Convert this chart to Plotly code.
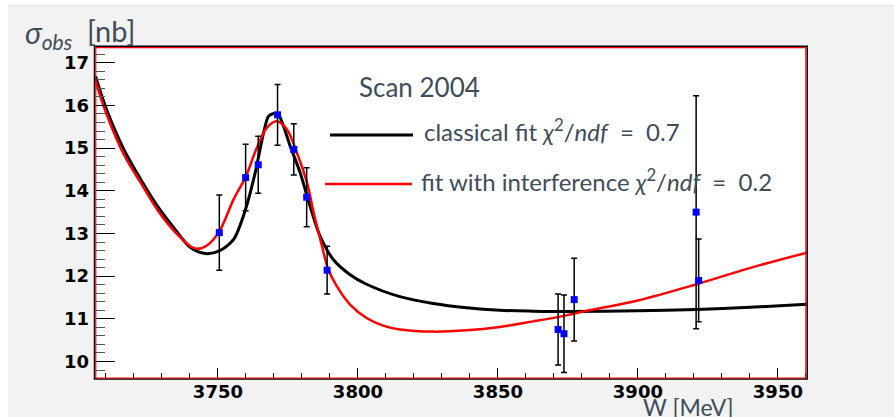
import plotly.graph_objects as go

# ---- measured cross sections (Scan 2004) ----
w_data = [3750.5, 3759.9, 3764.4, 3771.3, 3777.1, 3781.7, 3789.0,
          3871.5, 3873.6, 3877.25, 3920.8, 3921.7]
sigma_data = [13.02, 14.31, 14.61, 15.78, 14.97, 13.85, 12.14,
              10.75, 10.65, 11.45, 13.50, 11.90]
sigma_err = [0.88, 0.78, 0.67, 0.71, 0.60, 0.69, 0.56,
             0.83, 0.91, 0.97, 2.73, 0.97]

# ---- classical fit curve ----
w_classic = [3706.3, 3710.2, 3716.4, 3722.4, 3728.4, 3734.3, 3740.2, 3745.5,
             3750.5, 3755.6, 3759.8, 3763.3, 3766.3, 3768.1, 3769.9, 3771.4,
             3773.4, 3775.8, 3779.4, 3782.9, 3786.4, 3791.2, 3797.1, 3803.1,
             3815.0, 3826.9, 3838.8, 3850.7, 3862.6, 3874.4, 3900.0, 3921.0,
             3940.0, 3960.4]
sigma_classic = [16.68, 15.91, 14.97, 14.27, 13.64, 13.13, 12.67, 12.53,
                 12.59, 12.86, 13.55, 14.42, 15.36, 15.75, 15.81, 15.81,
                 15.52, 15.05, 14.42, 13.64, 12.95, 12.39, 12.04, 11.81,
                 11.52, 11.36, 11.26, 11.20, 11.18, 11.17, 11.19, 11.22,
                 11.27, 11.34]

# ---- fit with interference ----
w_interf = [3706.3, 3710.2, 3716.4, 3722.4, 3728.4, 3734.3, 3740.2, 3742.5,
            3746.1, 3750.5, 3755.6, 3759.8, 3763.9, 3767.5, 3771.0, 3774.6,
            3778.2, 3781.8, 3784.5, 3787.0, 3789.4, 3792.4, 3797.1, 3803.1,
            3809.0, 3815.0, 3826.9, 3838.8, 3850.7, 3862.6, 3874.4, 3880.5,
            3900.0, 3921.0, 3940.5, 3960.4]
sigma_interf = [16.57, 15.80, 14.85, 14.19, 13.55, 13.06, 12.70, 12.64,
                12.72, 13.05, 13.80, 14.31, 15.01, 15.48, 15.63, 15.44,
                14.89, 14.19, 13.40, 12.75, 12.16, 11.77, 11.34, 11.02,
                10.84, 10.75, 10.70, 10.73, 10.81, 10.94, 11.08, 11.17,
                11.43, 11.81, 12.20, 12.55]

x_ticks = [3750, 3800, 3850, 3900, 3950]
y_ticks = [10, 11, 12, 13, 14, 15, 16, 17]

NB = "\u00a0"
legend_classic = ("classical fit <i>χ</i><sup>2</sup>/<i>ndf</i>"
                  + NB * 2 + "=" + NB * 2 + "0.7")
legend_interf = ("fit with interference <i>χ</i><sup>2</sup>/<i>ndf</i>"
                 + NB * 2 + "=" + NB * 2 + "0.2")

# ---- canvas geometry (pixels) ----
W, H = 894, 417
L, R, T, B = 95, 87, 47, 39
PW, PH = W - L - R, H - T - B


def px(x):
    return (x - L) / PW


def py(y):
    return (H - B - y) / PH


TEXT = "#3d4d59"
FONT = "Lato"

fig = go.Figure()

fig.add_trace(go.Scatter(
    x=w_classic, y=sigma_classic, mode="lines",
    line=dict(color="black", width=3, shape="spline", smoothing=0.8),
    hoverinfo="skip", showlegend=False))

fig.add_trace(go.Scatter(
    x=w_interf, y=sigma_interf, mode="lines",
    line=dict(color="#ff0000", width=2.5, shape="spline", smoothing=1.0),
    hoverinfo="skip", showlegend=False))

fig.add_trace(go.Scatter(
    x=w_data, y=sigma_data, mode="markers",
    marker=dict(symbol="square", size=7, color="#0000ff", line=dict(width=0)),
    error_y=dict(type="data", array=sigma_err, visible=True,
                 color="black", thickness=1.5, width=3),
    showlegend=False))

tick_font = dict(family="DejaVu Sans", size=18, color="black", weight="bold")

fig.update_xaxes(
    range=[3706.1, 3960.4], showgrid=False, zeroline=False, showline=False,
    tickvals=x_ticks, ticks="inside", ticklen=10, tickwidth=1.2, tickcolor="black",
    minor=dict(dtick=10, tick0=3700, ticks="inside", ticklen=5, tickwidth=1.2,
               tickcolor="black"),
    tickfont=tick_font, ticklabelstandoff=1)

fig.update_yaxes(
    range=[9.613, 17.37], showgrid=False, zeroline=False, showline=False,
    tickvals=y_ticks, ticks="inside", ticklen=20, tickwidth=1.2, tickcolor="black",
    minor=dict(dtick=0.2, tick0=10, ticks="inside", ticklen=10, tickwidth=1.2,
               tickcolor="#555555"),
    tickfont=tick_font, ticklabelstandoff=5)

shapes = [
    # white border strips of the page
    dict(type="rect", xref="paper", yref="paper", x0=px(0), x1=px(W),
         y0=py(5), y1=py(0), fillcolor="white", line_width=0, layer="below"),
    dict(type="rect", xref="paper", yref="paper", x0=px(0), x1=px(8),
         y0=py(H), y1=py(0), fillcolor="white", line_width=0, layer="below"),
    dict(type="line", xref="paper", yref="paper", x0=px(8), x1=px(W),
         y0=py(5.5), y1=py(5.5), line=dict(color="#e4e4e4", width=1)),
    # frame: dark outline with red inner line
    dict(type="rect", xref="paper", yref="paper", x0=px(94.5), x1=px(807.2),
         y0=py(379), y1=py(46.3), line=dict(color="black", width=1.5)),
    dict(type="rect", xref="paper", yref="paper", x0=px(95.8), x1=px(805.8),
         y0=py(378), y1=py(47.6), line=dict(color="#ff0000", width=1.1)),
    # legend samples
    dict(type="line", xref="paper", yref="paper", x0=px(330), x1=px(413),
         y0=py(135), y1=py(135), line=dict(color="black", width=3)),
    dict(type="line", xref="paper", yref="paper", x0=px(325), x1=px(412),
         y0=py(184), y1=py(184), line=dict(color="#ff0000", width=2.5)),
]

annotations = [
    dict(text="Scan 2004", x=px(357), y=py(87), xanchor="left", yanchor="middle",
         font=dict(family=FONT, size=26, color=TEXT)),
    dict(text=legend_classic, x=px(422), y=py(130), xanchor="left", yanchor="middle",
         font=dict(family=FONT, size=24, color=TEXT)),
    dict(text=legend_interf, x=px(419), y=py(180), xanchor="left", yanchor="middle",
         font=dict(family=FONT, size=24, color=TEXT)),
    dict(text="<i>σ</i><sub><i>obs</i></sub>", x=px(23), y=py(34),
         xanchor="left", yanchor="middle",
         font=dict(family=FONT, size=30, color=TEXT)),
    dict(text="[nb]", x=px(85), y=py(31), xanchor="left", yanchor="middle",
         font=dict(family=FONT, size=29, color=TEXT)),
    dict(text="W [MeV]", x=px(641), y=py(407), xanchor="left", yanchor="middle",
         font=dict(family=FONT, size=23, color=TEXT)),
]
for a in annotations:
    a.update(xref="paper", yref="paper", showarrow=False)

fig.update_layout(
    width=W, height=H, margin=dict(l=L, r=R, t=T, b=B),
    paper_bgcolor="#f2f2f2", plot_bgcolor="white",
    shapes=shapes, annotations=annotations, showlegend=False)

fig.write_html("out.html")
